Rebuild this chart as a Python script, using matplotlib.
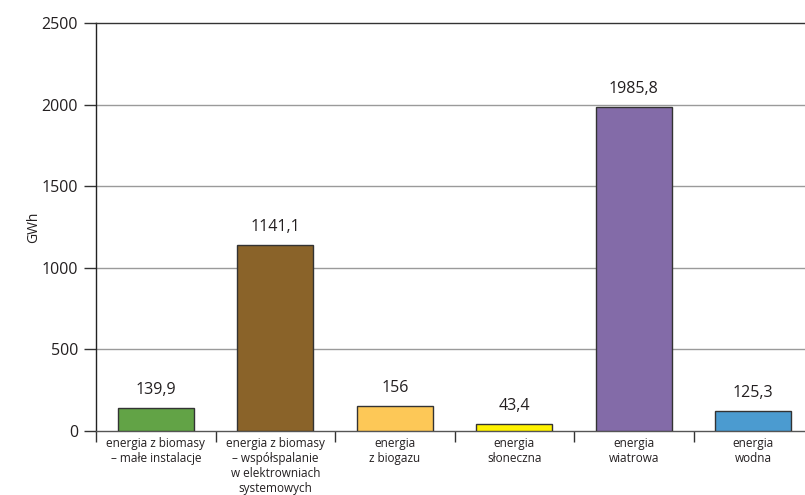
import matplotlib.pyplot as plt
from matplotlib.ticker import FixedLocator, NullFormatter

categories = [
    "energia z biomasy\n– małe instalacje",
    "energia z biomasy\n– współspalanie\nw elektrowniach\nsystemowych",
    "energia\nz biogazu",
    "energia\nsłoneczna",
    "energia\nwiatrowa",
    "energia\nwodna",
]
values = [139.9, 1141.1, 156, 43.4, 1985.8, 125.3]
value_labels = ["139,9", "1141,1", "156", "43,4", "1985,8", "125,3"]
colors = ["#62a346", "#8a6329", "#fdc857", "#fff200", "#836ba8", "#4b9bd0"]
yticks = [0, 500, 1000, 1500, 2000, 2500]

plt.rcParams["font.family"] = ["Open Sans", "DejaVu Sans"]
text_color = "#231f20"

fig = plt.figure(figsize=(8.05, 4.95), dpi=100)
ax = fig.add_axes([96 / 805, 64 / 495, 717 / 805, 408 / 495])

x = range(len(categories))
ax.bar(x, values, width=0.64, color=colors, edgecolor="#333333", linewidth=1, zorder=3)

for xi, v, lab in zip(x, values, value_labels):
    ax.annotate(lab, (xi, v), xytext=(0, 7), textcoords="offset points",
                ha="center", va="bottom", fontsize=11.5, color=text_color)

ax.set_xlim(-0.5, len(categories) - 0.5)
ax.set_ylim(0, 2500)
ax.set_yticks(yticks)
ax.set_yticklabels([str(t) for t in yticks], fontsize=11.5, color=text_color)
for t in yticks[1:-1]:
    ax.axhline(t, color="#9a9a9a", linewidth=1, zorder=1)

ax.set_xticks(list(x))
ax.set_xticklabels(categories, fontsize=8.5, color=text_color, linespacing=1.2)
ax.tick_params(axis="x", which="major", length=0, pad=4)
ax.xaxis.set_minor_locator(FixedLocator([i - 0.5 for i in range(len(categories) + 1)]))
ax.xaxis.set_minor_formatter(NullFormatter())
ax.tick_params(axis="x", which="minor", length=8, width=1, color="#333333", direction="out")
ax.tick_params(axis="y", length=9, width=1, color="#333333", pad=4)

ax.spines["right"].set_visible(False)
ax.spines["top"].set_color("#333333")
ax.spines["left"].set_color("#222222")
ax.spines["bottom"].set_color("#555555")
for s in ax.spines.values():
    s.set_linewidth(1)

ax.set_ylabel("GWh", fontsize=10, color=text_color, labelpad=0)

fig.savefig("out.png", dpi=100)
